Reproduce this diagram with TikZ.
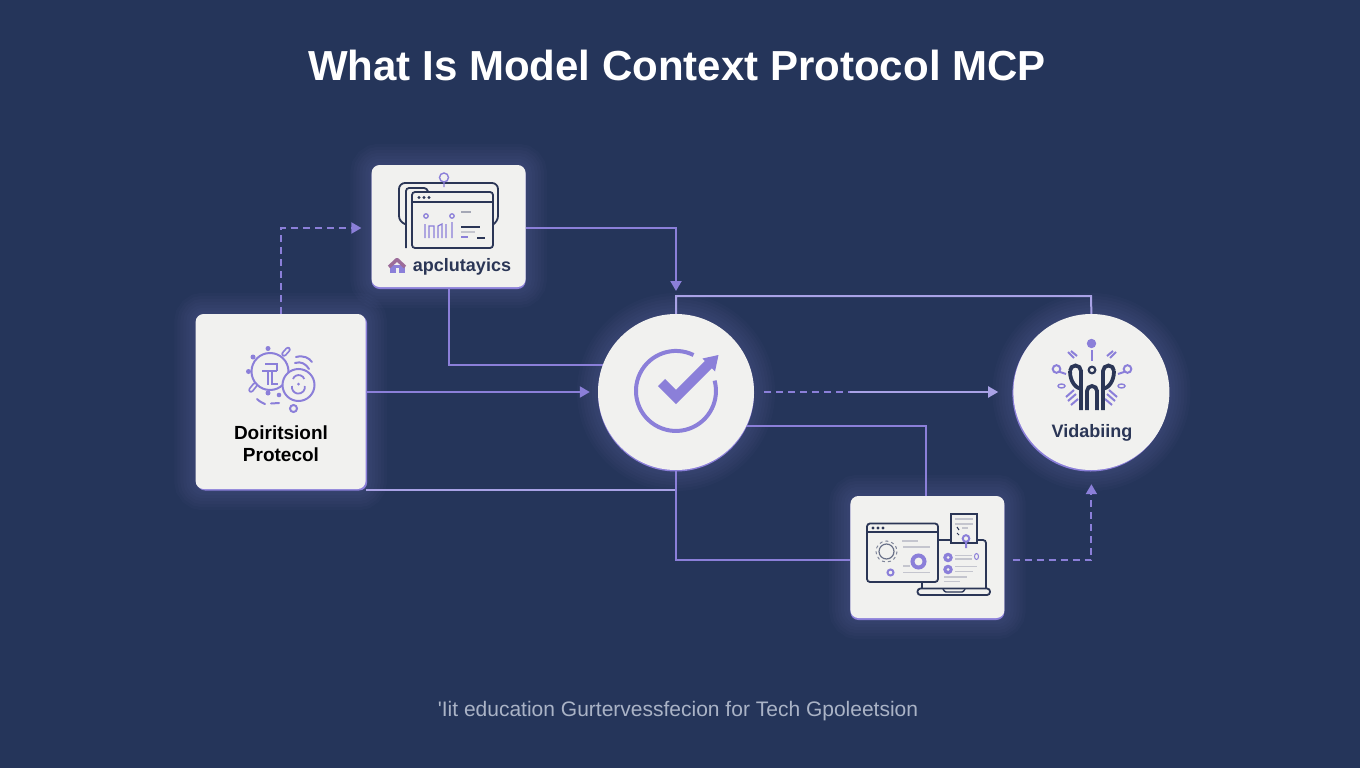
\documentclass[tikz,border=0pt]{standalone}
\usepackage{fontspec}
\setmainfont{Liberation Sans}
\newfontfamily\footfont{Liberation Sans}
\usetikzlibrary{arrows.meta,positioning,backgrounds,shadows}

\definecolor{navy}{HTML}{25355A}
\definecolor{ink}{HTML}{2B3656}
\definecolor{lilac}{HTML}{8B7FD9}
\definecolor{paleline}{HTML}{A9A2E6}
\definecolor{cardface}{HTML}{F1F1EF}
\definecolor{softgrey}{HTML}{C4C5CE}
\definecolor{footgrey}{HTML}{AAB3C6}
\definecolor{mauve}{HTML}{9C6C9A}

\tikzset{
    card/.style={rectangle, fill=cardface, rounded corners=8pt, inner sep=0pt, minimum width=154pt, minimum height=122pt},
    bigcard/.style={card, minimum width=170pt, minimum height=175pt},
    disc/.style={circle, fill=cardface, inner sep=0pt, minimum size=156pt},
    wire/.style={draw=lilac, line width=2pt},
    dashwire/.style={wire, dashed, dash pattern=on 7pt off 5pt},
    tip/.style={-{Triangle[length=10pt,width=11pt]}},
    halo/.style={draw=lilac, opacity=0.03},
    inkline/.style={draw=ink, line width=1.8pt, rounded corners=3pt},
    lilacline/.style={draw=lilac, line width=2pt},
    greyline/.style={draw=softgrey, line width=1.6pt},
    cardtext/.style={font=\bfseries\fontsize{19}{22}\selectfont, text=ink, align=center}
}

\begin{document}
\begin{tikzpicture}[x=1pt,y=-1pt]
    \useasboundingbox (0,0) rectangle (1360,768);

    % Nodes
    \node (hub) [disc, drop shadow={shadow xshift=0pt, shadow yshift=-1.5pt, fill=lilac, opacity=1}] at (676,392) {};
    \node (valid) [disc, right=259pt of hub, drop shadow={shadow xshift=-1pt, shadow yshift=-1.5pt, fill=lilac, opacity=1}] {};
    \node (protocol) [bigcard, left=232pt of hub, yshift=-9.5pt, drop shadow={shadow xshift=1.5pt, shadow yshift=-1.5pt, fill=lilac, opacity=1}] {};
    \node (apps) [card, left=72pt of hub, yshift=166pt, drop shadow={shadow xshift=0pt, shadow yshift=-2pt, fill=lilac, opacity=1}] {};
    \node (laptop) [card, right=96pt of hub, yshift=-165pt, drop shadow={shadow xshift=0pt, shadow yshift=-2pt, fill=lilac, opacity=1}] {};

    \node (title) [font=\bfseries\fontsize{42}{48}\selectfont, text=white] at (677,65) {What Is Model Context Protocol MCP};
    \node (footer) [font=\footfont\fontsize{21}{25}\selectfont, text=footgrey] at (678,711) {'Iit education Gurtervessfecion for Tech Gpoleetsion};
    \node (appslabel) [cardtext, text=ink, font=\bfseries\fontsize{18}{22}\selectfont] at (462,267) {apclutayics};
    \node (protocollabel) [cardtext, text=black] at (281,444) {Doiritsionl\\Protecol};
    \node (validlabel) [cardtext, font=\bfseries\fontsize{18}{20}\selectfont] at (1092,433) {Vidabiing};

    % Glow
    \begin{scope}[on background layer]
        \fill[navy] (0,0) rectangle (1360,768);
        \foreach \w in {6,12,...,42} {
            \draw[halo, line width=\w pt] (hub) circle[radius=78];
            \draw[halo, line width=\w pt] (valid) circle[radius=78];
            \draw[halo, line width=\w pt, rounded corners=8pt] (protocol.south west) rectangle (protocol.north east);
            \draw[halo, line width=\w pt, rounded corners=8pt] (apps.south west) rectangle (apps.north east);
            \draw[halo, line width=\w pt, rounded corners=8pt] (laptop.south west) rectangle (laptop.north east);
        }
    \end{scope}

    % Arrows
    \coordinate (topbus) at (1091,296);
    \coordinate (apptip) at (676,291);
    \coordinate (midgap) at (850,392);
    \begin{scope}[on background layer]
        \draw[wire, draw=paleline] (hub.north) |- (topbus) -- (valid.north);
        \draw[wire] (apps.south) |- (hub.160);
        \draw[wire, draw=paleline] (protocol.south east) ++(0,1) -| (hub.south);
        \draw[wire] (hub.south) |- ([yshift=-3pt]laptop.west);
        \draw[wire] (hub.-26) -| ([xshift=-1.5pt]laptop.north);
    \end{scope}
    \draw[dashwire, tip] (protocol.north) |- ([xshift=-10pt,yshift=-2pt]apps.west);
    \draw[wire, tip] ([yshift=-2pt]apps.east) -| (apptip);
    \draw[wire, tip] (protocol.east |- hub.west) -- ([xshift=-8pt]hub.west);
    \draw[dashwire] ([xshift=10pt]hub.east) -- (midgap);
    \draw[wire, draw=paleline, tip] (midgap) -- ([xshift=-15pt]valid.west);
    \draw[dashwire, tip] ([xshift=8pt,yshift=-3pt]laptop.east) -| ([yshift=-14pt]valid.south);

    % Icon: apps
    \draw[inkline, rounded corners=6pt] (405,224) -- (399,222) -- (399,183) -- (498,183) -- (498,222) -- (494,224);
    \draw[inkline] (406,248) -- (406,188) -- (427,188) -- (428,192);
    \draw[inkline, fill=cardface] (412,248) -- (412,192) -- (493,192) -- (493,248) -- cycle;
    \draw[inkline, rounded corners=0pt, line width=1.4pt] (412,202) -- (493,202);
    \foreach \x in {419,424,429} \fill[ink] (\x,197.5) circle[radius=1.7];
    \draw[lilacline, line width=1.4pt] (444,177.5) circle[radius=4.5] (444,182) -- (444,187);
    \foreach \x in {426,452} \draw[lilacline, line width=1.3pt] (\x,216) circle[radius=2.2];
    \draw[lilacline, line width=1.3pt] (425,238) -- (425,224) (429,238) -- (429,226) -- (434,226) -- (434,238) (438,238) -- (438,226) -- (442,224) -- (442,238) (446,238) -- (446,224) (452,238) -- (452,222);
    \draw[greyline, draw=softgrey!80!ink] (461,212) -- (471,212);
    \draw[inkline, line width=1.4pt] (461,227) -- (480,227) (477,238) -- (485,238);
    \draw[greyline] (461,232) -- (475,232);
    \draw[lilacline, line width=1.4pt] (461,237) -- (468,237);
    \fill[lilac] (390,265) rectangle (405,273);
    \fill[cardface] (396,268) rectangle (399,273);
    \draw[mauve, line width=3.5pt, line join=round] (389,267) -- (397,259.5) -- (405,267);

    % Icon: protocol
    \draw[lilacline] (270,371.5) circle[radius=18.5];
    \foreach \x/\y in {268/348.5,253/357,248.5/371.5,268/393} \fill[lilac] (\x,\y) circle[radius=2.5];
    \fill[lilac] (279,395) circle[radius=2.3];
    \draw[lilac, line width=5.5pt, line cap=round] (284,354) -- (288,349.5) (255,385) -- (251,390);
    \draw[cardface, line width=2pt, line cap=round] (284,354) -- (288,349.5) (255,385) -- (251,390);
    \draw[lilacline, fill=cardface] (298.5,385) circle[radius=16];
    \draw[lilacline, line width=1.8pt] (292,386) arc[start angle=190,end angle=-10,radius=6.5];
    \draw[lilacline, line width=1.8pt] (293,379) arc[start angle=-160,end angle=-20,radius=6];
    \fill[lilac] (298.5,384) circle[radius=1.5];
    \draw[lilacline] (265,363.5) -- (277,363.5) -- (277,370.5) (262,370.5) -- (277,370.5) (267.5,370.5) -- (267.5,385) (272,370.5) -- (272,383.5) -- (278,383.5);
    \draw[lilacline, line cap=round] (296,357) .. controls (304,355) and (309,358) .. (312,362);
    \draw[lilacline, line cap=round] (295,363) .. controls (301,361) and (306,364) .. (309,369);
    \draw[lilacline, line cap=round] (257,399) .. controls (260,402) and (263,403) .. (265,404);
    \draw[lilacline, line cap=round] (271,403.5) -- (279,403);
    \draw[lilacline] (293.5,408.5) circle[radius=3.5];

    % Icon: hub
    \draw[lilac, line width=4pt] (693.5,355) arc[start angle=-64,end angle=-375,radius=40];
    \draw[lilac, line width=10pt] (661.5,382.5) -- (676,397) -- (709,364);
    \fill[lilac] (702.5,358.5) -- (718.5,355) -- (715,371.5) -- cycle;

    % Icon: valid
    \fill[lilac] (1091.5,343.5) circle[radius=4.7];
    \draw[lilacline] (1091.5,350) -- (1091.5,361);
    \draw[lilacline] (1068,352) -- (1074,358) (1071,351) -- (1077,356) (1116,352) -- (1110,358) (1113,351) -- (1107,356);
    \draw[lilacline] (1056.5,369) circle[radius=3.8] (1060,372) -- (1066,374) (1127.5,369) circle[radius=3.8] (1124,372) -- (1118,374);
    \draw[lilacline, line width=1.4pt] (1061.5,386) circle[x radius=3.5,y radius=2] (1121.5,386) circle[x radius=3.5,y radius=2];
    \draw[lilacline] (1066,397) -- (1074,390) (1068,401) -- (1076,394) (1071,405) -- (1078,399) (1117,397) -- (1109,390) (1115,401) -- (1107,394) (1112,405) -- (1105,399);
    \draw[ink, line width=3.8pt] (1081,410) -- (1081,371) arc[start angle=0,end angle=-180,radius=5.5] (1070,371) .. controls (1070,382) and (1076,388) .. (1081,389);
    \draw[ink, line width=3.8pt] (1103,410) -- (1103,371) arc[start angle=-180,end angle=0,radius=5.5] (1114,371) .. controls (1114,382) and (1108,388) .. (1103,389);
    \draw[ink, line width=3.8pt] (1087,410) -- (1087,391) arc[start angle=-180,end angle=0,radius=5] -- (1097,410);
    \draw[ink, line width=2.2pt] (1092,370) circle[radius=3.3];

    % Icon: laptop
    \draw[inkline] (937,540) -- (986,540) -- (986,588);
    \draw[inkline] (922,582) -- (922,588);
    \draw[inkline, rounded corners=3pt] (917.5,588.5) rectangle (990,595);
    \draw[inkline, line width=1.4pt, rounded corners=1pt] (943,589) -- (945,592) -- (963,592) -- (965,589);
    \draw[inkline, fill=cardface] (867,523.5) rectangle (938,582);
    \draw[inkline, line width=1.4pt, rounded corners=0pt] (867,532) -- (938,532);
    \foreach \x in {873,878,883} \fill[ink] (\x,528) circle[radius=1.6];
    \draw[ink!60, line width=1pt, dashed] (886.5,551.5) circle[radius=10.5];
    \draw[ink!70, line width=1.2pt] (886.5,551.5) circle[radius=7.5];
    \draw[lilac, line width=4pt] (918.5,561.5) circle[radius=6];
    \draw[lilacline] (890.5,572.5) circle[radius=3];
    \draw[greyline] (902,541) -- (918,541) (903,547) -- (930,547) (903,566) -- (910,566) (903,572.5) -- (930,572.5);
    \draw[inkline, fill=cardface, rounded corners=0pt, line width=1.4pt] (951,514) rectangle (977,543);
    \draw[greyline] (955,519) -- (973,519) (955,524) -- (973,524) (962,528) -- (968,528);
    \draw[ink, line width=1pt] (957,527) -- (959,530) (957,533) -- (959,535);
    \draw[lilacline, fill=cardface] (966,538.5) circle[radius=3.3] (966,542) -- (966,548);
    \foreach \y in {557.5,569.5} {
        \fill[lilac] (948,\y) circle[radius=4.8];
        \fill[cardface] (948,\y) circle[radius=1.5];
    }
    \draw[greyline] (955,555.5) -- (972,555.5) (955,559) -- (972,559) (955,566.5) -- (977,566.5) (955,571.5) -- (973,571.5) (944,577) -- (967,577) (944,581.5) -- (960,581.5);
    \draw[lilacline, line width=1pt] (976.5,556.5) circle[x radius=2,y radius=3];

\end{tikzpicture}
\end{document}
